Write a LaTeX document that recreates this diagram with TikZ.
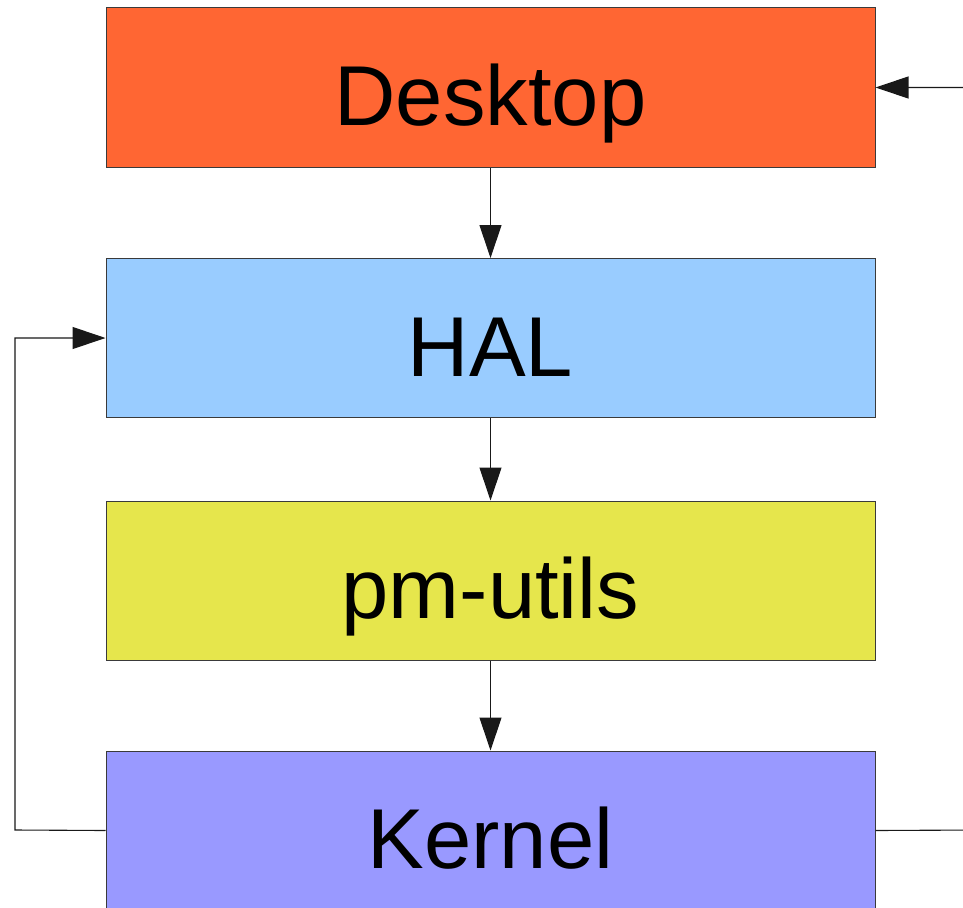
\documentclass[tikz,border=0pt]{standalone}
\usepackage{fontspec}
\setmainfont{Liberation Sans}
\usetikzlibrary{arrows.meta}
\definecolor{cdesk}{HTML}{FF6633}
\definecolor{chal}{HTML}{99CCFF}
\definecolor{cpm}{HTML}{E6E64C}
\definecolor{ckern}{HTML}{9999FF}
\definecolor{cedge}{HTML}{3A3A3A}
\tikzset{
  layer/.style={draw=cedge, line width=1pt, minimum width=769pt, minimum height=159pt,
    inner sep=0pt, text height=76pt, text depth=0pt,
    font=\fontsize{85}{90}\selectfont, text=black},
  conn/.style={draw=black!90, line width=1.1pt},
  arr/.style={conn, -{Triangle[length=33pt,width=22pt]}}
}
\begin{document}
\begin{tikzpicture}[x=1pt,y=-1pt]
\useasboundingbox (0,0) rectangle (963,907);
\node[layer, fill=cdesk] (desk) at (490.5,87.5) {Desktop};
\node[layer, fill=chal] (hal) at (490.5,338) {HAL};
\node[layer, fill=cpm] (pm) at (490.5,580.5) {pm-utils};
\node[layer, fill=ckern] (kern) at (490.5,830.5) {Kernel};
\coordinate (lft) at (15,830);
\coordinate (rgt) at (980,830);
\draw[arr] (desk) -- (hal);
\draw[arr] (hal) -- (pm);
\draw[arr] (pm) -- (kern);
\draw[arr] (kern.west) -- (lft) |- (hal.west);
\draw[arr] (kern.east) -- (rgt) |- (desk.east);
\end{tikzpicture}
\end{document}
